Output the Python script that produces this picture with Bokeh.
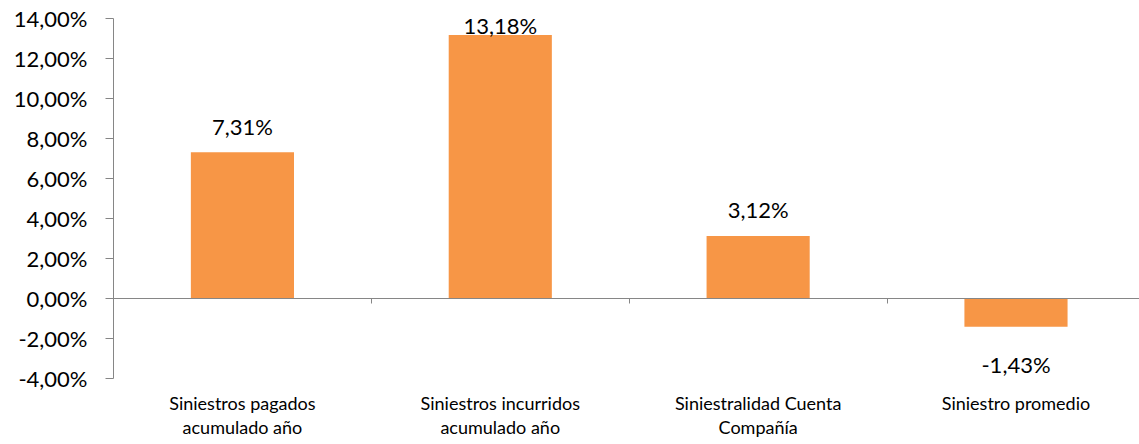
from bokeh.plotting import figure
from bokeh.models import Range1d, LinearAxis, FixedTicker, ColumnDataSource
from bokeh.embed import file_html
from bokeh.resources import INLINE
from bokeh.core.properties import value

categories = [
    "Siniestros pagados\nacumulado año",
    "Siniestros incurridos\nacumulado año",
    "Siniestralidad Cuenta\nCompañía",
    "Siniestro promedio",
]
values = [7.31, 13.18, 3.12, -1.43]
value_labels = ["7,31%", "13,18%", "3,12%", "-1,43%"]
y_ticks = [-4, -2, 0, 2, 4, 6, 8, 10, 12, 14]
y_tick_labels = ["-4,00%", "-2,00%", "0,00%", "2,00%", "4,00%", "6,00%",
                 "8,00%", "10,00%", "12,00%", "14,00%"]

FONT = "Lato"
AXIS_GRAY = "#868686"
BAR = "#F79646"

n = len(categories)
centers = [i + 0.5 for i in range(n)]
ymin, ymax = min(y_ticks), max(y_ticks)

p = figure(width=1139, height=444,
           x_range=Range1d(0, 3.979), y_range=Range1d(-7.32, ymax),
           x_axis_location=None, y_axis_location=None,
           output_backend="svg", toolbar_location=None,
           min_border_left=113, min_border_right=0,
           min_border_top=18, min_border_bottom=0)
p.outline_line_color = None
p.grid.visible = False
p.background_fill_color = "white"
p.border_fill_color = "white"

# y axis
yax = LinearAxis(ticker=FixedTicker(ticks=y_ticks), bounds=(ymin, ymax),
                 major_label_overrides={t: l for t, l in zip(y_ticks, y_tick_labels)})
yax.axis_line_color = AXIS_GRAY
yax.major_tick_line_color = AXIS_GRAY
yax.major_tick_out = 8
yax.major_tick_in = 0
yax.minor_tick_line_color = None
yax.major_label_text_font = FONT
yax.major_label_text_font_size = "22px"
yax.major_label_text_color = "#000000"
yax.major_label_standoff = 18
p.add_layout(yax, "left")

# x axis line at zero with category boundary ticks
xax = LinearAxis(fixed_location=0, ticker=FixedTicker(ticks=list(range(1, n))))
xax.axis_line_color = AXIS_GRAY
xax.major_tick_line_color = AXIS_GRAY
xax.major_tick_out = 5
xax.major_tick_in = 0
xax.minor_tick_line_color = None
xax.major_label_text_alpha = 0
p.add_layout(xax, "below")

# category labels below the plot
cax = LinearAxis(fixed_location=ymin, ticker=FixedTicker(ticks=centers),
                 major_label_overrides={c: lab for c, lab in zip(centers, categories)})
cax.axis_line_color = None
cax.major_tick_line_color = None
cax.minor_tick_line_color = None
cax.major_label_text_font = FONT
cax.major_label_text_font_size = "18px"
cax.major_label_text_line_height = 1.1
cax.major_label_text_color = "#000000"
cax.major_label_standoff = 8
p.add_layout(cax, "below")

# bars
src = ColumnDataSource(dict(x=centers, top=values))
p.vbar(x="x", top="top", bottom=0, width=0.4, source=src,
       fill_color=BAR, line_color=None)

# data labels
label_y = [min(v + 0.85, 13.22) if v >= 0 else v - 2.36 for v in values]
lsrc = ColumnDataSource(dict(x=centers, y=label_y, t=value_labels))
p.text(x="x", y="y", text="t", source=lsrc, text_align="center",
       text_baseline="alphabetic", text_font=value(FONT),
       text_font_size="22px", text_color="#000000", y_offset=-9)

open("out.html", "w").write(file_html(p, INLINE))
